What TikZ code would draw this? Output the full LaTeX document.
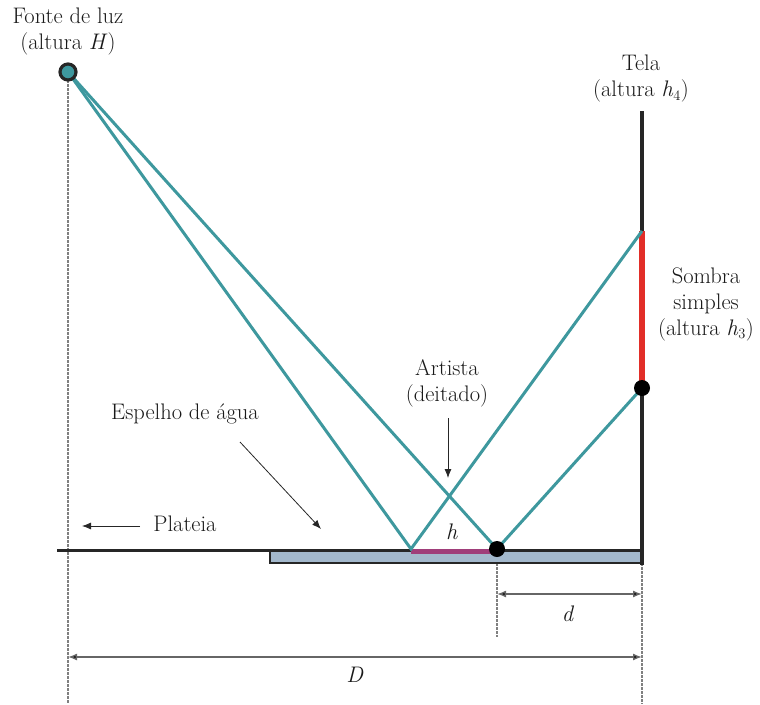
\documentclass[tikz,border=0pt]{standalone}
\usepackage{fontspec}
\usetikzlibrary{arrows.meta}
\definecolor{ray}{RGB}{62,152,158}
\definecolor{shadow}{RGB}{226,46,40}
\definecolor{artist}{RGB}{160,62,122}
\definecolor{water}{RGB}{163,184,204}
\begin{document}
\begin{tikzpicture}[x=1pt,y=-1pt,
  lbl/.style={font=\fontsize{22.5}{26}\selectfont, text=black!90, align=center, inner sep=0pt},
  rayline/.style={draw=ray, line width=3pt},
  guide/.style={draw=gray, line width=1.2pt, dash pattern=on 2.5pt off 1.5pt},
  pointer/.style={draw=black!85, line width=0.8pt, -{Latex[length=9pt,width=7pt]}},
  dim/.style={draw=black!60, line width=1.4pt, {Latex[length=9pt,width=7pt,fill=black]}-{Latex[length=9pt,width=7pt,fill=black]}},
  dot/.style={circle, fill=black, inner sep=0pt, minimum size=16pt}]
\useasboundingbox (0,0) rectangle (760,704);
% coordinates
\coordinate (L) at (68,72);
\coordinate (R1) at (411,549);
\coordinate (R2) at (497,549);
\coordinate (S1) at (642,231);
\coordinate (S2) at (642,388);
\coordinate (Ltop) at (68,80);
\coordinate (Lbot) at (68,704);
\coordinate (Dtop) at (497,563);
\coordinate (Dbot) at (497,637);
\coordinate (Ttop) at (642,563);
\coordinate (Tbot) at (642,704);
% guides
\draw[guide] (Ltop) -- (Lbot);
\draw[guide] (Dtop) -- (Dbot);
\draw[guide] (Ttop) -- (Tbot);
% water
\draw[black!85, line width=2.6pt, fill=water] (270,550) rectangle (642,563);
% floor
\draw[black!85, line width=3pt] (57,550) -- (642,550);
% screen
\draw[black!85, line width=3.2pt, line cap=rect] (642,113) -- (642,563);
\draw[shadow, line width=6.5pt] (S1) -- (S2);
% artist
\draw[artist, line width=5pt] (411,551) -- (497,551);
% rays
\draw[rayline] (L) -- (R1) -- (S1);
\draw[rayline] (L) -- (R2) -- (S2);
% light
\node[circle, draw=black!85, line width=3.2pt, fill=ray, inner sep=0pt, minimum size=16pt] (light) at (L) {};
\node[dot] (d1) at (R2) {};
\node[dot] (d2) at (S2) {};
% labels
\node[lbl] (fonte) at (68,32) {Fonte de luz\\(altura \textit{H})};
\node[lbl] (tela) at (641,79) {Tela\\(altura \textit{h}$_4$)};
\node[lbl] (sombra) at (706,304) {Sombra\\simples\\(altura \textit{h}$_3$)};
\node[lbl] (artista) at (447,383) {Artista\\(deitado)};
\node[lbl] (espelho) at (185,414) {Espelho de água};
\node[lbl] (plateia) at (185,524) {Plateia};
\node[lbl] (hlab) at (452,532) {\textit{h}};
\node[lbl] (dlab) at (568,614) {\textit{d}};
\node[lbl] (Dlab) at (355,675) {\textit{D}};
% pointers
\coordinate (a1s) at (448,418); \coordinate (a1e) at (448,478);
\draw[pointer] (a1s) -- (a1e);
\coordinate (a2s) at (240,442); \coordinate (a2e) at (321,529);
\draw[pointer] (a2s) -- (a2e);
\coordinate (a3s) at (140,526); \coordinate (a3e) at (82,526);
\draw[pointer] (a3s) -- (a3e);
% dimensions
\coordinate (dA) at (497,594); \coordinate (dB) at (642,594);
\draw[dim] (dA) -- (dB);
\coordinate (DA) at (68,657); \coordinate (DB) at (642,657);
\draw[dim] (DA) -- (DB);
\end{tikzpicture}
\end{document}
